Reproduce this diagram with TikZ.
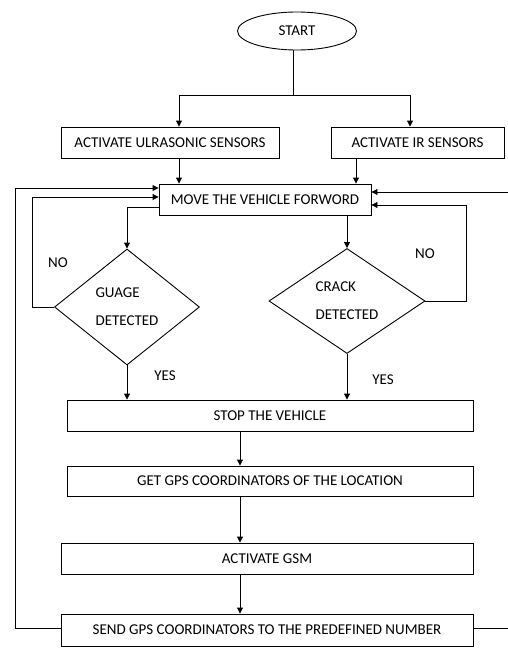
\documentclass[tikz,border=0pt]{standalone}
\usepackage{fontspec}
\setmainfont{Carlito}
\usetikzlibrary{positioning,arrows.meta,shapes.geometric,calc}

\begin{document}
\begin{tikzpicture}[
  x=1pt, y=-1pt,
  font=\fontsize{15}{17}\selectfont,
  term/.style={draw, ellipse, minimum width=119pt, minimum height=38pt, inner sep=0pt},
  proc/.style={draw, rectangle, minimum height=31pt, inner sep=2pt},
  decide/.style={draw, diamond, aspect=1.3, inner sep=0pt, align=left},
  lbl/.style={inner sep=1pt},
  arr/.style={draw, line width=0.9pt, -{Triangle[length=6pt,width=6pt]}},
  line width=0.9pt
]
% Coordinates are in image pixels (y grows downward) so every box sits
% where it does in the scanned chart; the two outer feedback loops run
% past the right edge and are cut off by the bounding box.
\useasboundingbox (0,0) rectangle (508,648);
\node[term] (start) at (297,31) {START};
\node[proc, minimum width=218pt] (ultra) at (170,142.5) {ACTIVATE ULRASONIC SENSORS};
\node[proc, minimum width=173pt] (ir) at (417.5,142.5) {ACTIVATE IR SENSORS};
\node[proc, minimum width=212pt] (move) at (265,199.5) {MOVE THE VEHICLE FORWORD};
\node[decide, minimum width=145pt, minimum height=116pt] (guage) at (127,307) {GUAGE\\[11pt]DETECTED};
\node[decide, minimum width=156pt, minimum height=105pt] (crack) at (347,301) {CRACK\\[11pt]DETECTED};
\node[proc, minimum width=406pt] (stop) at (270,415.5) {STOP THE VEHICLE};
\node[proc, minimum width=406pt, minimum height=30pt] (gps) at (270,481) {GET GPS COORDINATORS OF THE LOCATION};
\node[proc, minimum width=412pt] (gsm) at (267,558.5) {ACTIVATE GSM};
\node[proc, minimum width=412pt, minimum height=32pt] (send) at (267,630) {SEND GPS COORDINATORS TO THE PREDEFINED NUMBER};

\node[lbl] (noL) at (58,263) {NO};
\node[lbl] (noR) at (425,254) {NO};
\node[lbl] (yesL) at (165,376) {YES};
\node[lbl] (yesR) at (383,380) {YES};

\coordinate (split) at (293,95);
\coordinate (spine) at (240,0);

% start splits to both sensor boxes
\draw (start.south -| split) -- (split);
\draw[arr] (split) -| ([xshift=9pt]ultra.north);
\draw[arr] (split) -| ([xshift=-7.5pt]ir.north);
\draw[arr] ([xshift=9pt]ultra.south) -- ([xshift=9pt]ultra.south |- move.north);
\draw[arr] ([xshift=-61.5pt]ir.south) -- ([xshift=-61.5pt]ir.south |- move.north);

% checks and their NO loops
\draw[arr] ([yshift=-7.5pt]move.west) -| (guage.north);
\draw[arr] (move.south -| crack.north) -- (crack.north);
\draw[arr] (guage.west) -- ++(-22,0) |- ([yshift=2.5pt]move.west);
\draw[arr] (crack.east) -- ++(41,0) |- ([yshift=-5.5pt]move.east);
\draw[arr] (guage.south) -- (guage.south |- stop.north);
\draw[arr] (crack.south) -- (crack.south |- stop.north);

\foreach \a/\b in {stop/gps, gps/gsm, gsm/send}
  \draw[arr] (\a.south -| spine) -- (\b.north -| spine);

% outer loops back to the drive step
\draw[arr] ([yshift=2pt]send.west) -- ++(-45,0) |- ([yshift=11.5pt]move.west);
\draw[arr] ([yshift=2pt]send.east) -- ++(45,0) |- ([yshift=7.5pt]move.east);
\end{tikzpicture}
\end{document}
